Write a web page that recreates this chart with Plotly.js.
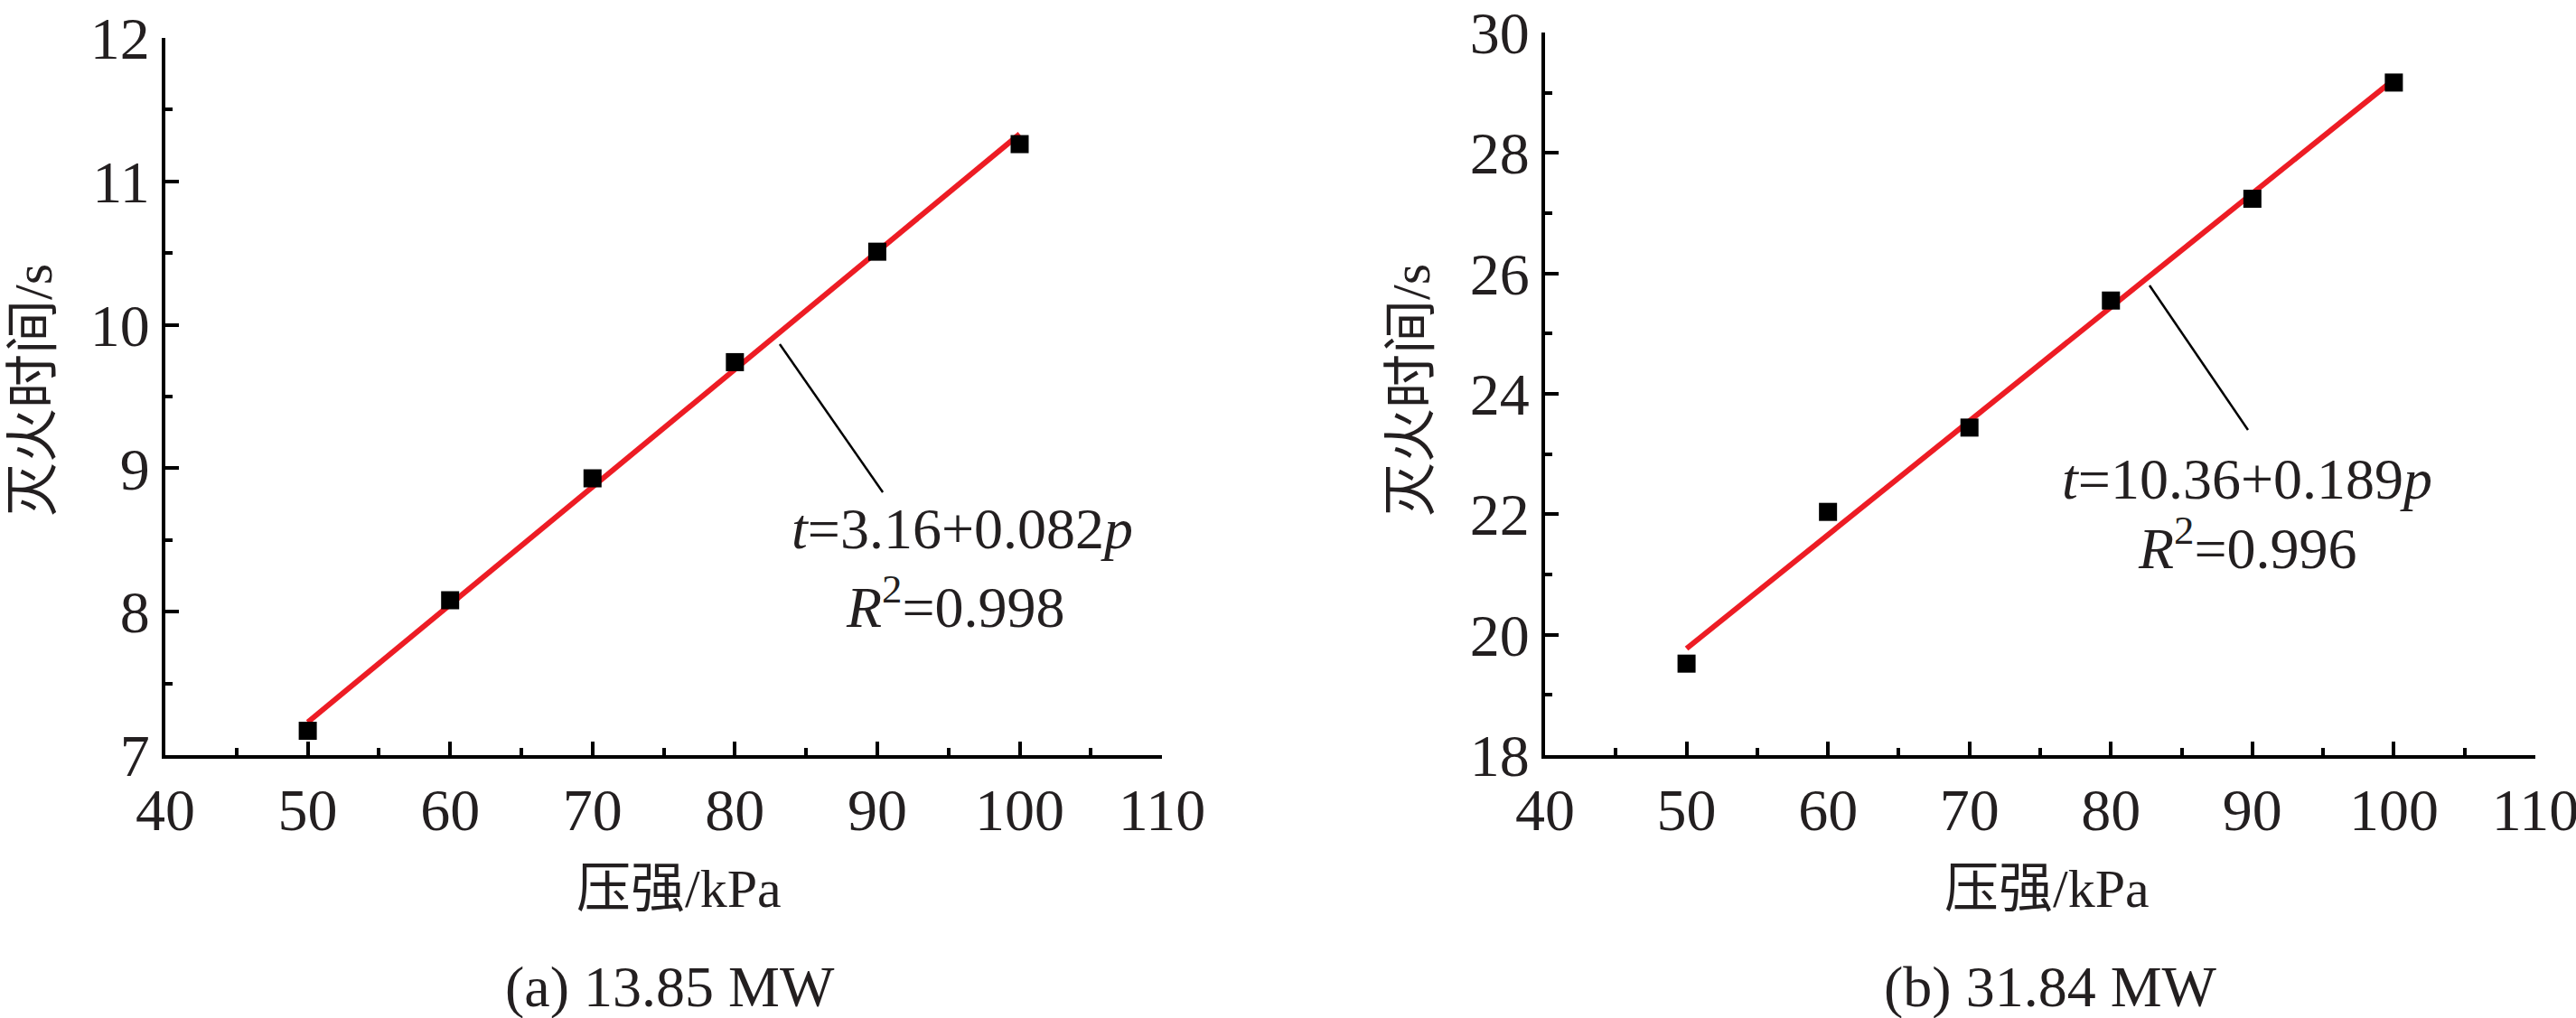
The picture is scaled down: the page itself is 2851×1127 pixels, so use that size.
<!DOCTYPE html>
<html>
<head>
<meta charset="utf-8">
<script src="https://cdn.plot.ly/plotly-3.0.1.min.js"></script>
<style>
  body { margin: 0; background: #fff; }
  #myDiv { width: 2851px; height: 1127px; }
</style>
</head>
<body>
<div id="myDiv"></div>
<script>
// pressure (kPa) and extinguishing time (s)
var pressure = [50, 60, 70, 80, 90, 100];
var timeA = [7.17, 8.08, 8.93, 9.74, 10.51, 11.26];   // (a) 13.85 MW
var timeB = [19.52, 22.04, 23.44, 25.55, 27.24, 29.17]; // (b) 31.84 MW

// ends of the red fit lines
var fitX = [50, 100];
var fitA = [7.23, 11.33];
var fitB = [19.77, 29.22];

var xTicks = [40, 50, 60, 70, 80, 90, 100, 110];
var yTicksA = [7, 8, 9, 10, 11, 12];
var yTicksB = [18, 20, 22, 24, 26, 28, 30];

var fontStack = "'Liberation Serif', 'Times New Roman', 'Noto Sans CJK SC', serif";
var ink = "#231f20";
var red = "#ed1c24";

function doFirst() {
  var pointsA = {
    x: pressure, y: timeA, xaxis: 'x', yaxis: 'y',
    mode: 'markers', type: 'scatter',
    marker: { symbol: 'square', size: 20, color: '#000' }
  };
  var lineA = {
    x: fitX, y: fitA, xaxis: 'x', yaxis: 'y',
    mode: 'lines', type: 'scatter',
    line: { color: red, width: 6 }
  };
  var pointsB = {
    x: pressure, y: timeB, xaxis: 'x2', yaxis: 'y2',
    mode: 'markers', type: 'scatter',
    marker: { symbol: 'square', size: 20, color: '#000' }
  };
  var lineB = {
    x: fitX, y: fitB, xaxis: 'x2', yaxis: 'y2',
    mode: 'lines', type: 'scatter',
    line: { color: red, width: 6 }
  };

  function xAxis(dom, anchor) {
    return {
      domain: dom, anchor: anchor, range: [40, 110],
      tickvals: xTicks, ticks: 'inside', ticklen: 15, tickwidth: 4, tickcolor: '#000',
      minor: { dtick: 5, tick0: 40, ticks: 'inside', ticklen: 8, tickwidth: 4, tickcolor: '#000' },
      showline: true, linewidth: 4, linecolor: '#000',
      showgrid: false, zeroline: false,
      ticklabeloverflow: 'allow',
      tickfont: { family: fontStack, size: 66, color: ink }
    };
  }
  function yAxis(dom, anchor, rng, vals, minorStep) {
    return {
      domain: dom, anchor: anchor, range: rng,
      tickvals: vals, ticks: 'inside', ticklen: 15, tickwidth: 4, tickcolor: '#000',
      minor: { dtick: minorStep, tick0: rng[0], ticks: 'inside', ticklen: 8, tickwidth: 4, tickcolor: '#000' },
      showline: true, linewidth: 4, linecolor: '#000',
      showgrid: false, zeroline: false,
      ticklabeloverflow: 'allow',
      tickfont: { family: fontStack, size: 66, color: ink }
    };
  }

  var txt = { family: fontStack, size: 64, color: ink };
  var titleTxt = { family: fontStack, size: 60, color: ink };

  var layout = {
    width: 2851, height: 1127,
    margin: { l: 0, r: 0, t: 0, b: 0 },
    paper_bgcolor: '#fff', plot_bgcolor: '#fff',
    showlegend: false,
    xaxis: xAxis([0.0642, 0.4511], 'y'),
    yaxis: yAxis([0.2582, 0.9627], 'x', [7, 12], yTicksA, 0.5),
    xaxis2: xAxis([0.5998, 0.9842], 'y2'),
    yaxis2: yAxis([0.2582, 0.968], 'x2', [18, 30], yTicksB, 1),
    shapes: [
      { type: 'line', xref: 'x', yref: 'y', x0: 83.15, y0: 9.865, x1: 90.39, y1: 8.833,
        line: { color: '#000', width: 2.5 } },
      { type: 'line', xref: 'x2', yref: 'y2', x0: 82.73, y0: 25.80, x1: 89.69, y1: 23.40,
        line: { color: '#000', width: 2.5 } }
    ],
    annotations: [
      { xref: 'x', yref: 'y', x: 95.97, y: 8.58, text: '<i>t</i>=3.16+0.082<i>p</i>',
        showarrow: false, font: txt, xanchor: 'center', yanchor: 'middle' },
      { xref: 'x', yref: 'y', x: 95.47, y: 8.06, text: '<i>R</i><sup>2</sup>=0.998',
        showarrow: false, font: txt, xanchor: 'center', yanchor: 'middle' },
      { xref: 'x2', yref: 'y2', x: 89.63, y: 22.59, text: '<i>t</i>=10.36+0.189<i>p</i>',
        showarrow: false, font: txt, xanchor: 'center', yanchor: 'middle' },
      { xref: 'x2', yref: 'y2', x: 89.63, y: 21.50, text: '<i>R</i><sup>2</sup>=0.996',
        showarrow: false, font: txt, xanchor: 'center', yanchor: 'middle' },
      // axis titles
      { xref: 'paper', yref: 'paper', x: 751 / 2851, y: 1 - 984 / 1127, text: '压强/kPa',
        showarrow: false, font: titleTxt, xanchor: 'center', yanchor: 'middle' },
      { xref: 'paper', yref: 'paper', x: 2265 / 2851, y: 1 - 984 / 1127, text: '压强/kPa',
        showarrow: false, font: titleTxt, xanchor: 'center', yanchor: 'middle' },
      { xref: 'paper', yref: 'paper', x: 37 / 2851, y: 1 - 432 / 1127, text: '灭火时间/s',
        textangle: -90, showarrow: false, font: titleTxt, xanchor: 'center', yanchor: 'middle' },
      { xref: 'paper', yref: 'paper', x: 1562 / 2851, y: 1 - 432 / 1127, text: '灭火时间/s',
        textangle: -90, showarrow: false, font: titleTxt, xanchor: 'center', yanchor: 'middle' },
      // panel captions
      { xref: 'paper', yref: 'paper', x: 741 / 2851, y: 1 - 1092 / 1127, text: '(a) 13.85 MW',
        showarrow: false, font: txt, xanchor: 'center', yanchor: 'middle' },
      { xref: 'paper', yref: 'paper', x: 2269 / 2851, y: 1 - 1092 / 1127, text: '(b) 31.84 MW',
        showarrow: false, font: txt, xanchor: 'center', yanchor: 'middle' }
    ]
  };

  Plotly.newPlot('myDiv', [lineA, pointsA, lineB, pointsB], layout, { staticPlot: true });
}

window.addEventListener("load", doFirst, false);
</script>
</body>
</html>
